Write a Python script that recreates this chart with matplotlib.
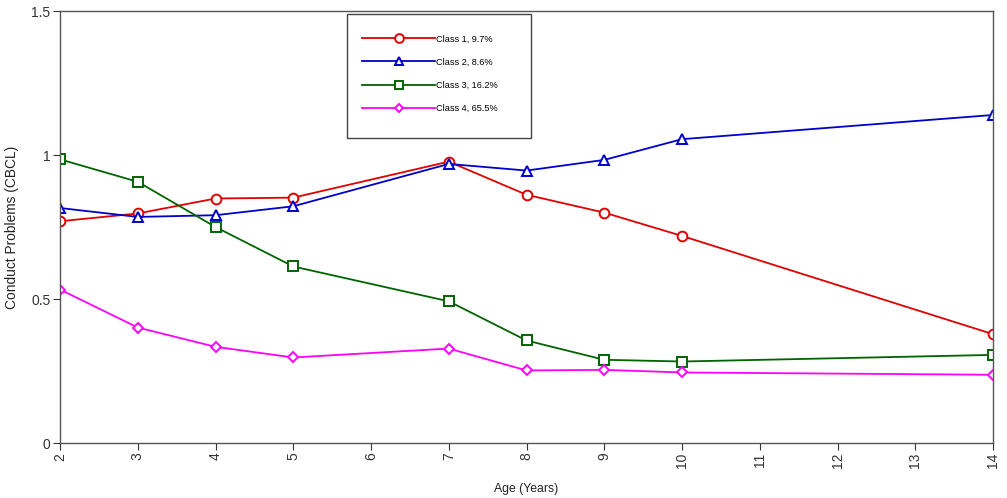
import matplotlib
matplotlib.use("Agg")
import matplotlib.pyplot as plt
from matplotlib.patches import Rectangle

plt.rcParams['font.family'] = ['Liberation Sans', 'DejaVu Sans']

ages = [2, 3, 4, 5, 7, 8, 9, 10, 14]
class1 = [0.770, 0.797, 0.849, 0.852, 0.977, 0.862, 0.800, 0.719, 0.378]
class2 = [0.816, 0.785, 0.791, 0.822, 0.969, 0.946, 0.983, 1.055, 1.139]
class3 = [0.985, 0.907, 0.750, 0.613, 0.492, 0.356, 0.289, 0.283, 0.306]
class4 = [0.533, 0.401, 0.334, 0.297, 0.328, 0.252, 0.254, 0.245, 0.237]
labels = ["Class 1, 9.7%", "Class 2, 8.6%", "Class 3, 16.2%", "Class 4, 65.5%"]
colors = ["#e00000", "#0000cc", "#006400", "#ff00ff"]
markers = ["o", "^", "s", "D"]
msizes = [7, 6.5, 7, 5]

fig = plt.figure(figsize=(10.07, 4.98), dpi=100)
ax = fig.add_axes([0.0596, 0.1104, 0.9265, 0.8675])

for ys, lab, c, m, ms in zip([class1, class2, class3, class4], labels, colors, markers, msizes):
    ax.plot(ages, ys, color=c, lw=1.3, marker=m, ms=ms, mfc="white",
            mec=c, mew=1.4, label=lab)

ax.set_xlim(2, 14)
ax.set_ylim(0, 1.5)
ax.set_xticks(range(2, 15))
ax.set_yticks([0, 0.5, 1, 1.5])
ax.set_yticklabels(["0", "0.5", "1", "1.5"])
ax.tick_params(axis="x", rotation=90, labelsize=10, colors="#333333", length=5, width=0.8, pad=2)
ax.tick_params(axis="y", labelsize=10, colors="#333333", length=5, width=0.8, pad=2)
for s in ax.spines.values():
    s.set_color("#555555")
    s.set_linewidth(1.0)

ax.set_xlabel("Age (Years)", fontsize=8.8, color="#222222")
ax.xaxis.set_label_coords(0.5, -0.092)
ax.set_ylabel("Conduct Problems (CBCL)", fontsize=9.9, color="#222222")
ax.yaxis.set_label_coords(-0.044, 0.5)

ax.add_patch(Rectangle((0.3076, 0.706), 0.1972, 0.287, transform=ax.transAxes,
                       fill=False, edgecolor="#444444", lw=1.0, zorder=5))
leg = ax.legend(loc="upper left", bbox_to_anchor=(0.3237, 0.946), frameon=False,
                fontsize=6.6, handlelength=8.0, handletextpad=0.1, labelspacing=1.55,
                borderpad=0, borderaxespad=0, markerscale=0.9)

fig.savefig("out.png", dpi=100)
